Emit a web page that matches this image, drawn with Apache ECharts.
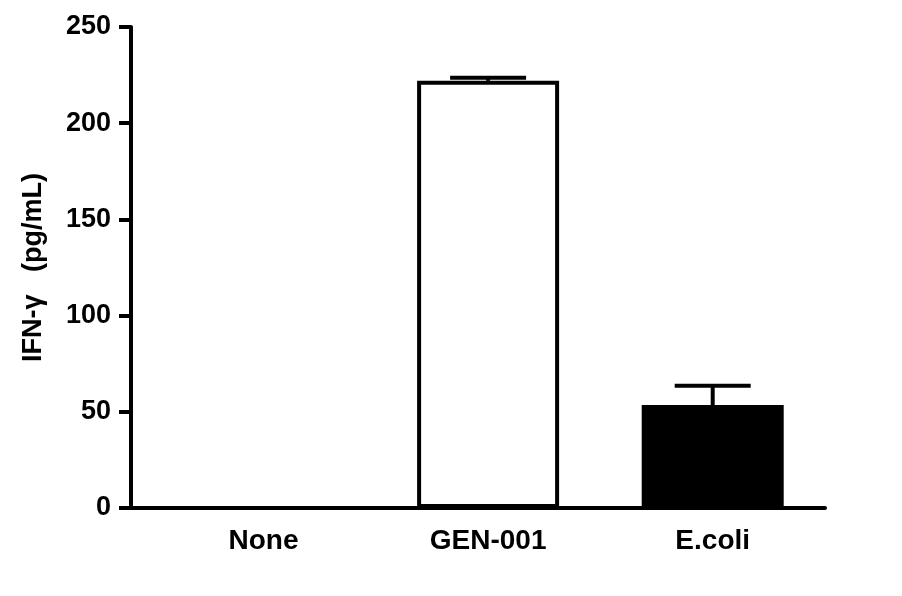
<!DOCTYPE html>
<html>
<head>
<meta charset="utf-8">
<script src="https://cdn.jsdelivr.net/npm/echarts@6/dist/echarts.min.js"></script>
<style>
  html, body { margin: 0; padding: 0; background: #fff; }
  #chart { width: 902px; height: 596px; }
</style>
</head>
<body>
<div id="chart"></div>
<script>
// 数据
var categories = ['None', 'GEN-001', 'E.coli'];
var positions = [1, 2, 3];
var means = [0, 222, 53.5];
var sems = [0, 1.6, 10];
var yTicks = [0, 50, 100, 150, 200, 250];

(function () {
  var myChart = echarts.init(document.getElementById('chart'));
  var font = "'Liberation Sans', Arial, sans-serif";
  var fills = ['#ffffff', '#ffffff', '#000000'];

  var barData = positions.map(function (p, i) {
    return {
      value: [p, means[i]],
      itemStyle: { color: fills[i] }
    };
  });
  var errData = positions.map(function (p, i) {
    return [p, means[i], sems[i]];
  });

  var option = {
    animation: false,
    backgroundColor: '#fff',
    grid: {
      left: 131,
      right: 77,
      top: 27,
      bottom: 88
    },
    xAxis: {
      type: 'value',
      min: 0.41,
      max: 3.5,
      splitLine: { show: false },
      axisTick: { show: false },
      axisLine: {
        show: true,
        onZero: false,
        lineStyle: { color: '#000', width: 4 }
      },
      axisLabel: {
        customValues: positions,
        formatter: function (v) {
          return categories[Math.round(v) - 1] || '';
        },
        color: '#000',
        fontFamily: font,
        fontWeight: 'bold',
        fontSize: 28,
        margin: 19
      }
    },
    yAxis: {
      type: 'value',
      min: yTicks[0],
      max: yTicks[yTicks.length - 1],
      interval: 50,
      name: 'IFN-γ   (pg/mL)',
      nameLocation: 'middle',
      nameRotate: 90,
      nameGap: 84,
      nameTextStyle: {
        color: '#000',
        fontFamily: font,
        fontWeight: 'bold',
        fontSize: 27
      },
      splitLine: { show: false },
      axisLine: {
        show: true,
        lineStyle: { color: '#000', width: 4 }
      },
      axisTick: {
        show: true,
        length: 12,
        lineStyle: { color: '#000', width: 4 }
      },
      axisLabel: {
        color: '#000',
        fontFamily: font,
        fontWeight: 'bold',
        fontSize: 27,
        margin: 20
      }
    },
    series: [
      {
        type: 'bar',
        barWidth: 142,
        itemStyle: {
          borderColor: '#000',
          borderWidth: 4
        },
        data: barData,
        z: 2
      },
      {
        // 误差线（只画上半部分）
        type: 'custom',
        z: 3,
        renderItem: function (params, api) {
          var x = api.value(0);
          var m = api.value(1);
          var e = api.value(2);
          if (!e) return;
          var base = api.coord([x, m]);
          var top = api.coord([x, m + e]);
          var half = 38;
          return {
            type: 'group',
            children: [
              {
                type: 'line',
                shape: { x1: base[0], y1: base[1], x2: top[0], y2: top[1] },
                style: { stroke: '#000', lineWidth: 4 }
              },
              {
                type: 'line',
                shape: { x1: top[0] - half, y1: top[1], x2: top[0] + half, y2: top[1] },
                style: { stroke: '#000', lineWidth: 4 }
              }
            ]
          };
        },
        data: errData
      }
    ]
  };

  myChart.setOption(option);
  window.addEventListener('resize', function () {
    myChart.resize();
  });
})();
</script>
</body>
</html>
